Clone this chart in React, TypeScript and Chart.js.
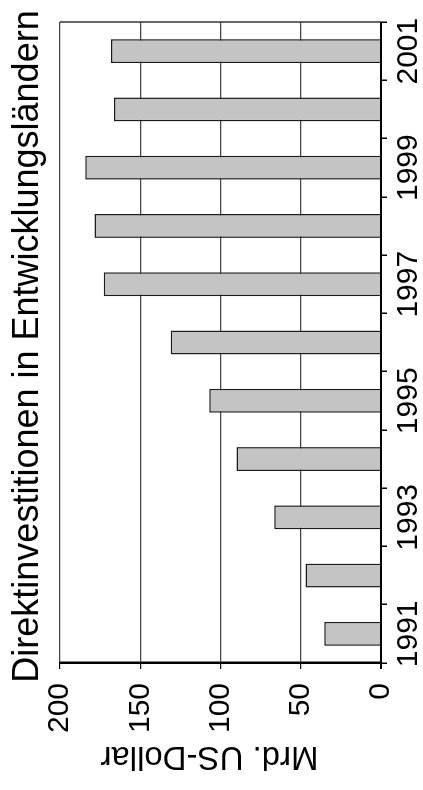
import { useEffect, useRef } from 'react';
import { Chart, registerables } from 'chart.js';

Chart.register(...registerables);

const years = ['1991', '1992', '1993', '1994', '1995', '1996', '1997', '1998', '1999', '2000', '2001'];
const fdiValues = [35.4, 47, 66.5, 90, 107, 131, 172.7, 178.5, 184.3, 166.3, 168.3];
const valueMin = 0;
const valueMax = 200;
const valueStep = 50;
const chartTitle = 'Direktinvestitionen in Entwicklungsländern';
const valueAxisTitle = 'Mrd. US-Dollar';

const FONT = '"Liberation Sans", Arial, Helvetica, sans-serif';

const decorPlugin = {
  id: 'decor',
  afterDraw(chart: any) {
    const { ctx, chartArea: a } = chart;
    ctx.save();
    ctx.strokeStyle = '#333';
    ctx.lineWidth = 1.5;
    ctx.beginPath();
    ctx.moveTo(a.right, a.top);
    ctx.lineTo(a.right, a.bottom);
    ctx.stroke();

    ctx.fillStyle = '#000';
    ctx.font = `36px ${FONT}`;
    ctx.textAlign = 'center';
    ctx.textBaseline = 'alphabetic';
    ctx.fillText(chartTitle, (a.left + a.right) / 2 - 4, 38);

    ctx.font = `33px ${FONT}`;
    ctx.translate(43, (a.top + a.bottom) / 2 - 11);
    ctx.rotate(-Math.PI / 2);
    ctx.fillText(valueAxisTitle, 0, 0);
    ctx.restore();
  },
};

export default function App() {
  const ref = useRef<HTMLCanvasElement | null>(null);

  useEffect(() => {
    if (!ref.current) return;
    Chart.defaults.font.family = FONT;
    const chart = new Chart(ref.current, {
      type: 'bar',
      data: {
        labels: years,
        datasets: [
          {
            data: fdiValues,
            backgroundColor: '#c4c4c4',
            borderColor: '#1a1a1a',
            borderWidth: 1.5,
            barPercentage: 0.41,
            categoryPercentage: 1,
          },
        ],
      },
      options: {
        responsive: false,
        animation: false,
        layout: { padding: { top: 60, right: 22, left: 0, bottom: 0 } },
        plugins: {
          legend: { display: false },
          title: { display: false },
          tooltip: { enabled: false },
        },
        scales: {
          x: {
            type: 'category',
            grid: {
              offset: true,
              drawOnChartArea: false,
              drawTicks: true,
              tickLength: 6,
              tickColor: '#000',
              lineWidth: 1.5,
            },
            border: { color: '#000', width: 2 },
            ticks: {
              autoSkip: false,
              maxRotation: 0,
              minRotation: 0,
              color: '#000',
              font: { size: 30 },
              padding: 4,
              callback: (_v: any, i: number) => (i % 2 === 0 ? years[i] : ''),
            },
            afterFit: (s: any) => {
              s.height = 42;
            },
          },
          y: {
            type: 'linear',
            min: valueMin,
            max: valueMax,
            z: 1,
            grid: {
              color: (c: any) => (c.tick && c.tick.value === 0 ? '#000' : '#444'),
              lineWidth: (c: any) => (c.tick && c.tick.value === 0 ? 2 : 1.2),
              tickLength: 6,
              tickColor: '#000',
            },
            border: { color: '#000', width: 2.5 },
            ticks: {
              stepSize: valueStep,
              color: '#000',
              font: { size: 30 },
              padding: 14,
            },
            afterFit: (s: any) => {
              s.width = 127;
            },
          },
        },
      },
      plugins: [decorPlugin],
    });
    return () => chart.destroy();
  }, []);

  return (
    <div
      style={{
        position: 'absolute',
        left: 0,
        top: 0,
        width: 790,
        height: 423,
        transformOrigin: '0 0',
        transform: 'translateY(790px) rotate(-90deg)',
        background: '#fff',
      }}
    >
      <canvas ref={ref} width={790} height={423} style={{ display: 'block' }} />
    </div>
  );
}
